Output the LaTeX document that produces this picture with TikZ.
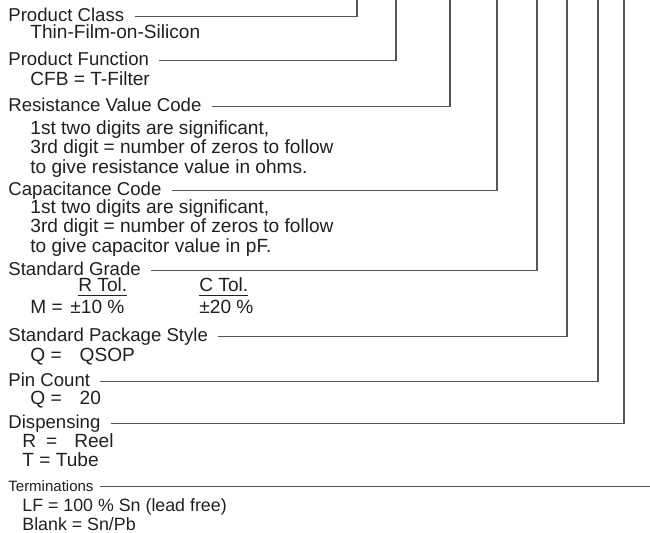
\documentclass[tikz,border=0pt]{standalone}
\usepackage{fontspec}
\setmainfont{Liberation Sans}
\usetikzlibrary{positioning}
\definecolor{leadGray}{HTML}{555555}
\definecolor{txtGray}{HTML}{231F20}
\tikzset{
  hd/.style={anchor=base west, inner sep=0pt, text=txtGray, font=\fontsize{9.3}{10}\selectfont},
  hdsmall/.style={hd, font=\fontsize{7.5}{9}\selectfont},
  sub/.style={hd, align=left, font=\fontsize{9.55}{9.85}\selectfont},
  subsmall/.style={sub, font=\fontsize{8.9}{9.6}\selectfont},
  lead/.style={draw=leadGray, line width=0.55pt},
}
\begin{document}
\begin{tikzpicture}[x=0.5pt, y=-0.5pt]
\useasboundingbox (0,0) rectangle (650,533);
% headings
\node[hd] (pc) at (8,21.5) {Product Class};
\node[hd] (pf) at (8,65.5) {Product Function};
\node[hd] (rv) at (8,111.5) {Resistance Value Code};
\node[hd] (cc) at (8,195.5) {Capacitance Code};
\node[hd] (sg) at (8,275.5) {Standard Grade};
\node[hd] (sp) at (8,341.5) {Standard Package Style};
\node[hd] (pn) at (8,386.5) {Pin Count};
\node[hd] (ds) at (8,429) {Dispensing};
\node[hdsmall] (tm) at (8,492) {Terminations};
% descriptions (base = last line)
\node[sub] (pc-d) at (30,39) {Thin-Film-on-Silicon};
\node[sub] (pf-d) at (30,85.5) {CFB = T-Filter};
\node[sub] (rv-d) at (30,173.5) {1st two digits are significant,\\3rd digit = number of zeros to follow\\to give resistance value in ohms.};
\node[sub] (cc-d) at (30,252.5) {1st two digits are significant,\\3rd digit = number of zeros to follow\\to give capacitor value in pF.};
\node[sub] (sg-r) at (78,292) {\underline{R Tol.}};
\node[sub] (sg-c) at (199,292) {\underline{C Tol.}};
\node[sub] (sg-m) at (30,313.5) {M =};
\node[sub] (sg-rv) at (70,313.5) {±10 \%};
\node[sub] (sg-cv) at (199,313.5) {±20 \%};
\node[sub] (sp-d) at (30,361.5) {Q =\hspace{9pt}QSOP};
\node[sub] (pn-d) at (30,404.5) {Q =\hspace{9pt}20};
\node[sub] (ds-d) at (22,467) {R\hspace{5pt}=\hspace{8.5pt}Reel\\T = Tube};
\node[subsmall] (tm-d) at (22,530.5) {LF = 100 \% Sn (lead free)\\Blank = Sn/Pb};
% leader lines up to the top edge
\foreach \n/\x in {pc/357,pf/396,rv/450,cc/497,sg/537,sp/567,pn/598,ds/624} {
  \coordinate (\n-top) at (\x,0);
  \draw[lead] ([xshift=5pt]\n.mid east) -| (\n-top);
}
\coordinate (tm-end) at (650,0);
\draw[lead] ([xshift=3pt]tm.mid east) -- (tm.mid east -| tm-end);
\end{tikzpicture}
\end{document}
